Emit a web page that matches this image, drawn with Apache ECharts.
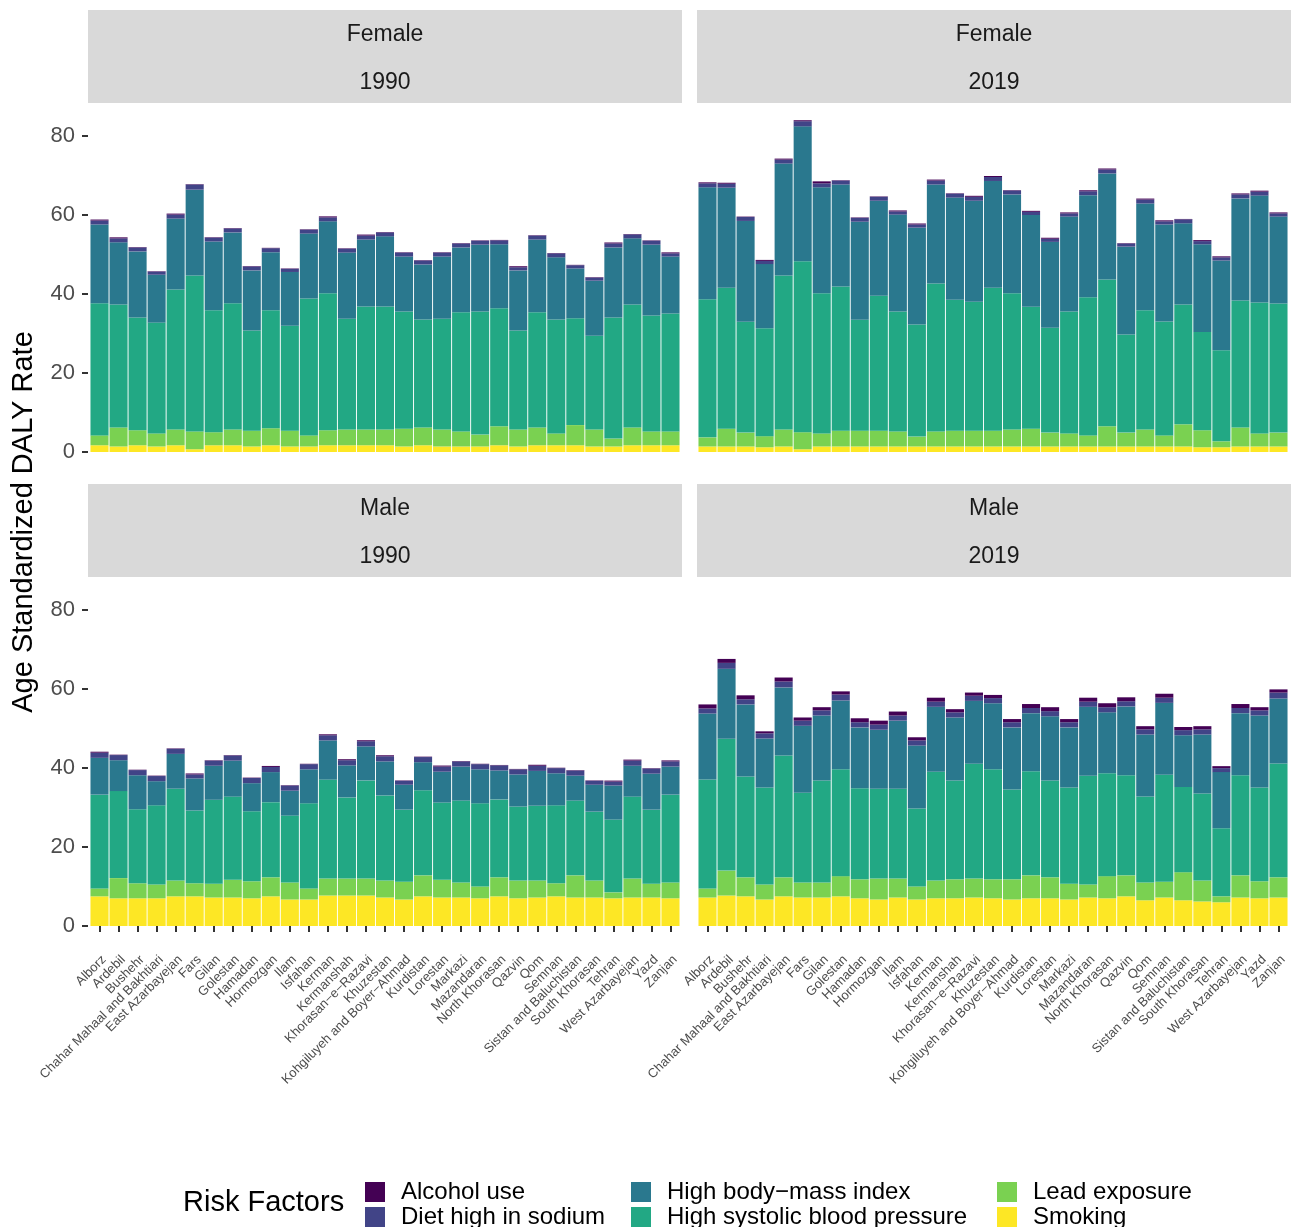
<!DOCTYPE html>
<html>
<head>
<meta charset="utf-8">
<title>Age standardized DALY rate by risk factor</title>
<script src="https://cdn.jsdelivr.net/npm/echarts@6/dist/echarts.min.js"></script>
<style>
  html, body { margin: 0; padding: 0; background: #fff; }
  #chart { width: 1300px; height: 1227px; }
</style>
</head>
<body>
<div id="chart"></div>
<script>
const provinces = ['Alborz', 'Ardebil', 'Bushehr', 'Chahar Mahaal and Bakhtiari', 'East Azarbayejan', 'Fars',
  'Gilan', 'Golestan', 'Hamadan', 'Hormozgan', 'Ilam', 'Isfahan', 'Kerman', 'Kermanshah', 'Khorasan−e−Razavi',
  'Khuzestan', 'Kohgiluyeh and Boyer−Ahmad', 'Kurdistan', 'Lorestan', 'Markazi', 'Mazandaran', 'North Khorasan',
  'Qazvin', 'Qom', 'Semnan', 'Sistan and Baluchistan', 'South Khorasan', 'Tehran', 'West Azarbayejan', 'Yazd', 'Zanjan']

// legend order (top-left to bottom-right), stacking goes the other way
const riskFactors = ['Alcohol use', 'Diet high in sodium', 'High body−mass index',
  'High systolic blood pressure', 'Lead exposure', 'Smoking']
const factorColors = ['#440154', '#414487', '#2A788E', '#22A884', '#7AD151', '#FDE725']
const yTicks = [0, 20, 40, 60, 80]

// Female 1990
const female1990Smoking = [1.7,1.4,1.7,1.4,1.7,0.7,1.7,1.7,1.4,1.7,1.4,1.4,1.7,1.7,1.7,1.7,1.4,1.7,1.4,1.4,1.4,1.7,1.4,1.7,1.7,1.7,1.4,1.4,1.7,1.7,1.7]
const female1990Lead = [2.5,4.8,3.8,3.3,4.0,4.5,3.3,4.0,4.0,4.3,4.0,2.8,3.8,4.0,4.0,4.0,4.5,4.5,4.3,3.8,3.0,4.8,4.3,4.5,3.0,5.1,4.3,2.0,4.5,3.5,3.5]
const female1990Sbp = [33.4,31.1,28.5,28.0,35.4,39.4,30.8,31.9,25.3,29.8,26.5,34.6,34.6,28.0,31.1,31.1,29.6,27.3,28.0,30.1,31.1,29.8,25.0,29.1,28.8,27.0,23.7,30.6,31.1,29.3,29.8]
const female1990Bmi = [19.9,15.7,16.7,12.1,17.9,21.7,17.4,17.9,15.2,14.7,13.6,16.4,18.2,16.7,16.9,17.7,13.9,13.9,15.7,16.4,16.9,16.2,15.2,18.4,15.7,12.6,13.9,17.7,16.7,17.9,14.4]
const female1990Sodium = [1.0,1.0,1.0,0.8,1.0,1.3,1.0,1.0,1.0,1.0,0.8,1.0,1.0,1.0,1.0,1.0,1.0,1.0,1.0,1.0,1.0,1.0,0.8,1.0,1.0,0.8,0.8,1.0,1.0,1.0,0.8]
const female1990Alcohol = [0.25,0.25,0.1,0.1,0.25,0.1,0.1,0.1,0.1,0.1,0.1,0.1,0.25,0.1,0.25,0.1,0.1,0.1,0.1,0.1,0.1,0.1,0.25,0.1,0.1,0.1,0.1,0.25,0.1,0.1,0.25]

// Female 2019
const female2019Smoking = [1.4,1.4,1.4,1.2,1.4,0.7,1.4,1.4,1.4,1.4,1.4,1.4,1.4,1.4,1.4,1.4,1.4,1.4,1.4,1.4,1.4,1.4,1.4,1.4,1.4,1.4,1.2,1.2,1.4,1.4,1.4]
const female2019Lead = [2.3,4.5,3.5,2.8,4.3,4.3,3.3,4.0,4.0,4.0,3.8,2.5,3.8,4.0,4.0,4.0,4.3,4.5,3.5,3.3,2.8,5.1,3.5,4.3,2.8,5.6,4.3,1.5,4.8,3.3,3.5]
const female2019Sbp = [34.9,35.6,28.0,27.3,38.9,43.2,35.4,36.4,28.0,34.1,30.3,28.3,37.4,33.1,32.6,36.1,34.4,30.8,26.5,30.8,34.9,37.1,24.8,30.1,28.8,30.3,24.8,23.0,32.1,33.1,32.6]
const female2019Bmi = [28.3,25.3,25.5,16.2,28.3,34.1,26.8,25.8,24.8,24.0,24.5,24.5,25.0,25.8,25.5,27.0,25.0,23.2,21.7,24.0,25.8,26.8,22.2,27.0,24.5,20.5,22.2,22.7,25.8,27.0,22.0]
const female2019Sodium = [1.0,1.0,1.0,0.8,1.0,1.3,1.0,1.0,1.0,1.0,0.8,0.8,1.0,1.0,1.0,1.0,1.0,0.8,0.8,0.8,1.0,1.0,0.8,1.0,0.8,1.0,0.8,0.8,1.0,1.0,0.8]
const female2019Alcohol = [0.25,0.25,0.1,0.25,0.25,0.25,0.5,0.1,0.1,0.1,0.25,0.25,0.25,0.1,0.25,0.25,0.1,0.25,0.25,0.25,0.25,0.25,0.1,0.25,0.25,0.1,0.25,0.25,0.25,0.25,0.25]

// Male 1990
const male1990Smoking = [7.5,7.0,7.0,7.0,7.5,7.5,7.2,7.2,7.0,7.5,6.7,6.7,7.7,7.7,7.7,7.2,6.7,7.5,7.2,7.2,7.0,7.5,7.0,7.2,7.5,7.2,7.2,7.0,7.2,7.2,7.0]
const male1990Lead = [2.0,5.1,3.8,3.5,4.0,3.3,3.5,4.5,4.3,4.8,4.3,2.8,4.3,4.3,4.3,4.3,4.5,5.3,4.5,3.8,3.0,4.8,4.5,4.3,3.3,5.6,4.3,1.5,4.8,3.5,4.0]
const male1990Sbp = [23.7,22.0,18.7,20.0,23.2,18.4,21.2,21.0,17.7,19.0,16.9,21.5,25.0,20.5,24.8,21.5,18.2,21.5,19.5,20.7,21.0,19.7,18.7,18.9,19.7,18.9,17.4,18.4,20.7,18.7,22.2]
const male1990Bmi = [9.3,7.8,8.6,6.1,8.8,8.1,8.6,9.1,7.1,7.6,6.3,8.6,9.9,8.1,8.6,8.6,6.3,7.1,7.8,8.6,8.6,7.3,8.1,8.8,8.1,6.3,6.8,8.6,7.8,9.1,7.1]
const male1990Sodium = [1.3,1.3,1.3,1.3,1.3,1.0,1.3,1.3,1.3,1.3,1.3,1.3,1.3,1.3,1.3,1.3,1.0,1.3,1.3,1.3,1.3,1.3,1.3,1.3,1.3,1.3,1.0,1.0,1.3,1.3,1.3]
const male1990Alcohol = [0.25,0.1,0.1,0.1,0.1,0.25,0.1,0.1,0.1,0.25,0.1,0.1,0.25,0.25,0.25,0.25,0.1,0.1,0.25,0.1,0.1,0.1,0.1,0.25,0.1,0.1,0.1,0.25,0.25,0.1,0.25]

// Male 2019
const male2019Smoking = [7.2,7.7,7.5,6.7,7.5,7.2,7.2,7.5,7.0,6.7,7.2,6.7,7.0,7.0,7.2,7.0,6.7,7.0,7.0,6.7,7.2,7.0,7.5,6.5,7.2,6.5,6.2,6.0,7.2,7.0,7.2]
const male2019Lead = [2.3,6.3,4.8,3.8,4.8,3.8,3.8,5.1,4.8,5.3,4.8,3.3,4.5,4.8,4.8,4.8,5.1,5.8,5.3,4.0,3.3,5.6,5.3,4.5,4.0,7.1,5.3,1.5,5.6,4.3,5.1]
const male2019Sbp = [27.5,33.3,25.5,24.5,30.8,22.7,25.8,27.0,23.0,22.7,22.7,19.7,27.5,25.0,29.0,27.8,22.7,26.3,24.5,24.3,27.5,26.0,25.3,21.7,27.0,21.5,22.0,17.2,25.3,23.7,28.8]
const male2019Bmi = [16.7,17.7,18.2,12.4,17.2,16.9,16.4,17.4,15.4,14.9,17.2,15.9,16.4,15.9,15.9,16.7,15.7,14.7,16.2,15.2,17.4,15.4,17.4,15.7,18.2,13.1,14.9,14.2,15.7,18.2,16.4]
const male2019Sodium = [1.3,1.5,1.3,1.3,1.5,1.3,1.3,1.5,1.3,1.3,1.3,1.3,1.3,1.3,1.3,1.3,1.3,1.3,1.3,1.3,1.3,1.3,1.3,1.3,1.3,1.3,1.3,1.0,1.3,1.3,1.5]
const male2019Alcohol = [1.0,1.0,1.0,0.5,1.0,0.8,0.8,0.8,1.0,1.0,1.0,0.8,1.0,0.8,0.8,0.8,0.8,1.0,1.0,0.8,1.0,1.0,1.0,0.8,1.0,0.8,0.8,0.5,1.0,0.8,0.8]

// each facet: series arrays in legend order (alcohol ... smoking)
const panels = [
  { sex: 'Female', year: '1990', left: 90, top: 105,
    values: [female1990Alcohol, female1990Sodium, female1990Bmi, female1990Sbp, female1990Lead, female1990Smoking] },
  { sex: 'Female', year: '2019', left: 698, top: 105,
    values: [female2019Alcohol, female2019Sodium, female2019Bmi, female2019Sbp, female2019Lead, female2019Smoking] },
  { sex: 'Male', year: '1990', left: 90, top: 579,
    values: [male1990Alcohol, male1990Sodium, male1990Bmi, male1990Sbp, male1990Lead, male1990Smoking] },
  { sex: 'Male', year: '2019', left: 698, top: 579,
    values: [male2019Alcohol, male2019Sodium, male2019Bmi, male2019Sbp, male2019Lead, male2019Smoking] }
]

const font = 'Liberation Sans, Arial, Helvetica, sans-serif'
const plotW = 590
const plotH = 347
const yMax = 87.7

const grids = []
const xAxes = []
const yAxes = []
const series = []
const graphics = []

panels.forEach((p, i) => {
  const isBottom = i >= 2
  const isLeft = i % 2 === 0
  grids.push({ left: p.left, top: p.top, width: plotW, height: plotH })

  xAxes.push({
    type: 'category',
    gridIndex: i,
    data: provinces,
    offset: 17,
    axisLine: { show: false },
    axisTick: { show: isBottom, alignWithLabel: true, length: 6, lineStyle: { color: '#333', width: 2 } },
    axisLabel: {
      show: isBottom, interval: 0, rotate: 45, margin: 10, verticalAlign: 'top',
      fontSize: 13, color: '#4d4d4d', fontFamily: font
    },
    splitLine: { show: false }
  })

  yAxes.push({
    type: 'value',
    gridIndex: i,
    min: 0,
    max: yMax,
    offset: 2,
    axisLine: { show: false },
    splitLine: { show: false },
    axisTick: { show: isLeft, customValues: yTicks, length: 6, lineStyle: { color: '#333', width: 2 } },
    axisLabel: { show: isLeft, customValues: yTicks, margin: 13, fontSize: 22, color: '#4d4d4d', fontFamily: font }
  })

  // stack bottom-up: smoking first, alcohol last
  for (let k = riskFactors.length - 1; k >= 0; k--) {
    series.push({
      name: riskFactors[k],
      type: 'bar',
      stack: 'panel' + i,
      xAxisIndex: i,
      yAxisIndex: i,
      barCategoryGap: '5%',
      data: p.values[k],
      itemStyle: { color: factorColors[k] },
      emphasis: { disabled: true }
    })
  }

  // facet strip
  const stripX = isLeft ? 88 : 697
  const stripY = isBottom ? 484 : 10
  graphics.push({
    type: 'rect',
    shape: { x: stripX, y: stripY, width: 594, height: 93 },
    style: { fill: '#d9d9d9' },
    silent: true
  })
  graphics.push({
    type: 'text', x: stripX + 297, y: stripY + 25,
    style: { text: p.sex, fontSize: 23, fontFamily: font, fill: '#1a1a1a', align: 'center', verticalAlign: 'middle' }
  })
  graphics.push({
    type: 'text', x: stripX + 297, y: stripY + 73,
    style: { text: p.year, fontSize: 23, fontFamily: font, fill: '#1a1a1a', align: 'center', verticalAlign: 'middle' }
  })
})

graphics.push({
  type: 'text', x: 24, y: 522, rotation: Math.PI / 2,
  style: { text: 'Age Standardized DALY Rate', fontSize: 29, fontFamily: font, fill: '#000', align: 'center', verticalAlign: 'middle' }
})
graphics.push({
  type: 'text', x: 183, y: 1203,
  style: { text: 'Risk Factors', fontSize: 29, fontFamily: font, fill: '#000', align: 'left', verticalAlign: 'middle' }
})

// three two-row legend columns, like the ggplot guide
const legendCols = [365, 631, 997]
const legends = legendCols.map((x, c) => ({
  orient: 'vertical',
  left: x,
  top: 1180,
  width: 320,
  height: 80,
  padding: 0,
  itemWidth: 20,
  itemHeight: 20,
  itemGap: 1,
  icon: 'rect',
  selectedMode: false,
  data: riskFactors.slice(c * 2, c * 2 + 2),
  textStyle: { fontSize: 24, lineHeight: 20, height: 20, color: '#000', fontFamily: font, padding: [0, 0, 0, 11] }
}))

const myChart = echarts.init(document.getElementById('chart'))
myChart.setOption({
  animation: false,
  backgroundColor: '#fff',
  grid: grids,
  xAxis: xAxes,
  yAxis: yAxes,
  legend: legends,
  graphic: graphics,
  series: series
})
</script>
</body>
</html>
